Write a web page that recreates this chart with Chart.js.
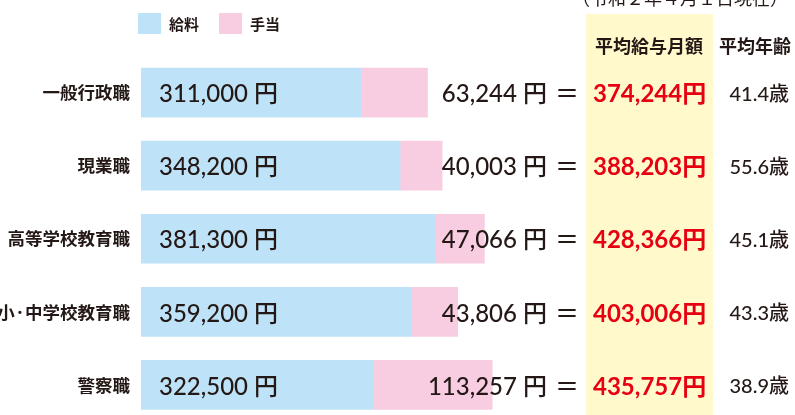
<!DOCTYPE html>
<html lang="ja">
<head>
<meta charset="utf-8">
<script src="https://cdn.jsdelivr.net/npm/chart.js@4"></script>
<style>
  html, body { margin: 0; padding: 0; background: #fff; overflow: hidden; }
  #wrap { position: relative; width: 795px; height: 435px; }
</style>
</head>
<body>
<div id="wrap"><canvas id="salaryChart"></canvas></div>
<script>
const categories = ['一般行政職', '現業職', '高等学校教育職', '小·中学校教育職', '警察職'];
const salary = [311000, 348200, 381300, 359200, 322500];
const allowance = [63244, 40003, 47066, 43806, 113257];
const totals = [374244, 388203, 428366, 403006, 435757];
const ages = [41.4, 55.6, 45.1, 43.3, 38.9];
const seriesNames = ['給料', '手当'];

const BLUE = '#BEE3F8';
const PINK = '#F8CDE1';
const INK = '#231815';
const RED = '#E60012';
const JP = '"Noto Sans CJK JP", sans-serif';
const NUM = 'Lato, "Noto Sans CJK JP", sans-serif';

const yen = v => v.toLocaleString('en-US');

// table columns, legend, header and value labels
const tablePlugin = {
  id: 'tablePlugin',
  beforeDatasetsDraw(chart) {
    const ctx = chart.ctx;
    ctx.save();
    ctx.fillStyle = '#FFF9CC';
    ctx.fillRect(586, 14, 127, 420);
    ctx.restore();
  },
  afterDraw(chart) {
    const ctx = chart.ctx;
    const y = chart.scales.y;
    const area = chart.chartArea;
    ctx.save();

    // date note (cut at the top)
    ctx.fillStyle = INK;
    ctx.font = '18px ' + JP;
    ctx.textAlign = 'left';
    ctx.textBaseline = 'bottom';
    ctx.fillText('（令和２年４月１日現在）', 572, 7);

    // legend
    const legendX = [138, 219];
    chart.data.datasets.forEach((ds, i) => {
      ctx.fillStyle = ds.backgroundColor;
      ctx.fillRect(legendX[i], 13, 23, 21);
      ctx.fillStyle = INK;
      ctx.font = 'bold 15px ' + JP;
      ctx.textBaseline = 'middle';
      ctx.fillText(ds.label, legendX[i] + 31, 24);
    });

    // headers
    ctx.font = 'bold 18px ' + JP;
    ctx.textAlign = 'center';
    ctx.fillText('平均給与月額', 649, 46);
    ctx.fillText('平均年齢', 755, 46);

    categories.forEach((c, i) => {
      const cy = y.getPixelForValue(i) + 2;
      ctx.textBaseline = 'middle';
      ctx.fillStyle = INK;

      ctx.font = '500 24px ' + NUM;
      ctx.textAlign = 'left';
      ctx.fillText(yen(salary[i]) + ' 円', area.left + 18, cy);

      ctx.textAlign = 'right';
      ctx.fillText(yen(allowance[i]) + ' 円', 547, cy);

      ctx.textAlign = 'center';
      ctx.fillText('＝', 567, cy);

      ctx.fillStyle = RED;
      ctx.font = 'bold 24px ' + NUM;
      ctx.textAlign = 'left';
      ctx.fillText(yen(totals[i]) + '円', 593, cy);

      ctx.fillStyle = INK;
      ctx.font = '500 20px ' + NUM;
      ctx.textAlign = 'right';
      ctx.fillText(ages[i].toFixed(1) + '歳', 789, cy);
    });
    ctx.restore();
  }
};

const ctx = document.getElementById('salaryChart').getContext('2d');
new Chart(ctx, {
  type: 'bar',
  data: {
    labels: categories,
    datasets: [{
      label: seriesNames[0],
      data: salary,
      backgroundColor: BLUE,
      barThickness: 49
    }, {
      label: seriesNames[1],
      data: allowance,
      backgroundColor: PINK,
      barThickness: 49
    }]
  },
  options: {
    indexAxis: 'y',
    responsive: true,
    maintainAspectRatio: false,
    animation: false,
    layout: { padding: { top: 56, bottom: 4, left: 0, right: 130 } },
    plugins: {
      legend: { display: false },
      tooltip: { enabled: false }
    },
    scales: {
      x: {
        stacked: true,
        display: false,
        min: 102000,
        max: 600000
      },
      y: {
        stacked: true,
        grid: { display: false },
        border: { display: false },
        ticks: {
          color: INK,
          padding: 3,
          font: { family: JP, size: 17.5, weight: 'bold' }
        },
        afterFit(scale) { scale.width = 141; }
      }
    }
  },
  plugins: [tablePlugin]
});
</script>
</body>
</html>
